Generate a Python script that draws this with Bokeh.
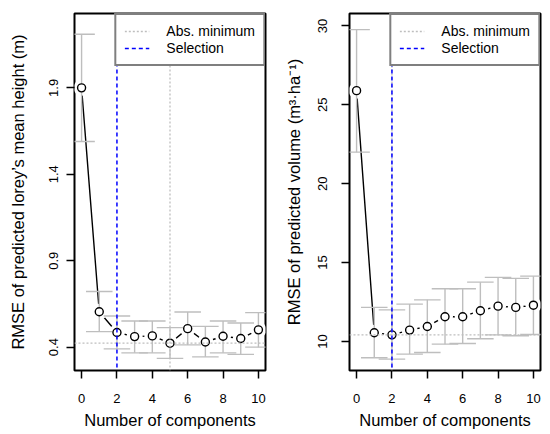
from bokeh.plotting import figure
from bokeh.layouts import row
from bokeh.models import Span, Legend, LegendItem, FixedTicker, Range1d
from bokeh.embed import file_html
from bokeh.resources import INLINE

# ---------------- data ----------------
components = [0, 1, 2, 3, 4, 5, 6, 7, 8, 9, 10]

height_rmse = [1.90, 0.605, 0.485, 0.461, 0.465, 0.423, 0.507, 0.430, 0.463, 0.450, 0.500]
height_upper = [2.21, 0.722, 0.580, 0.551, 0.551, 0.513, 0.603, 0.520, 0.551, 0.540, 0.600]
height_lower = [1.59, 0.490, 0.390, 0.367, 0.367, 0.335, 0.413, 0.344, 0.367, 0.358, 0.400]
height_selection = 2
height_yticks = [0.4, 0.9, 1.4, 1.9]

volume_rmse = [25.9, 10.55, 10.42, 10.72, 10.95, 11.57, 11.57, 11.95, 12.24, 12.16, 12.30]
volume_upper = [29.77, 12.16, 12.00, 12.37, 12.64, 13.34, 13.34, 13.76, 14.06, 14.00, 14.14]
volume_lower = [22.0, 8.97, 8.88, 9.20, 9.30, 9.83, 9.87, 10.17, 10.42, 10.36, 10.44]
volume_selection = 2
volume_yticks = [10, 15, 20, 25, 30]

xticks = [0, 2, 4, 6, 8, 10]

FONT = "Liberation Sans"
GRAY = "#BEBEBE"
CAP = 0.75
DOT = "2 2"
DASH = "4 3"
NAN = float("nan")


def make_panel(rmse, upper, lower, selection, yticks, yrange, ylabel,
               title_standoff, label_standoff):
    p = figure(width=275, height=434, output_backend="svg", toolbar_location=None,
               x_range=Range1d(-0.4, 10.4), y_range=Range1d(*yrange),
               min_border_left=74, min_border_right=10,
               min_border_top=13, min_border_bottom=64)
    p.grid.visible = False
    p.outline_line_color = "black"
    p.outline_line_width = 2
    p.background_fill_color = "white"
    p.border_fill_color = "white"

    # connecting line
    p.line(components, rmse, line_color="black", line_width=1.4)
    # white masks to create gaps around points (type="b")
    p.scatter(components, rmse, size=16, marker="circle", fill_color="white",
              line_color=None)
    # error bars
    p.segment(x0=components, y0=lower, x1=components, y1=upper,
              line_color=GRAY, line_width=1.4)
    xl = [c - CAP for c in components]
    xr = [c + CAP for c in components]
    p.segment(x0=xl, y0=upper, x1=xr, y1=upper, line_color=GRAY, line_width=1.4)
    p.segment(x0=xl, y0=lower, x1=xr, y1=lower, line_color=GRAY, line_width=1.4)
    # points
    p.scatter(components, rmse, size=8, marker="circle", fill_color="white",
              line_color="black", line_width=1.4)

    # absolute minimum and selection
    i_min = rmse.index(min(rmse))
    p.add_layout(Span(location=min(rmse), dimension="width", line_color=GRAY,
                      line_dash=DOT, line_width=1.3))
    p.add_layout(Span(location=components[i_min], dimension="height", line_color=GRAY,
                      line_dash=DOT, line_width=1.3))
    p.add_layout(Span(location=selection, dimension="height", line_color="#0000FF",
                      line_dash=DASH, line_width=1.5))

    r_min = p.line([selection, selection], [NAN, NAN], line_color=GRAY,
                   line_dash=DOT, line_width=1.3)
    r_sel = p.line([selection, selection], [NAN, NAN], line_color="#0000FF",
                   line_dash=DASH, line_width=1.5)
    legend = Legend(items=[LegendItem(label="Abs. minimum", renderers=[r_min]),
                           LegendItem(label="Selection", renderers=[r_sel])],
                    location="top_right", margin=0, padding=8, spacing=1,
                    label_standoff=17, glyph_width=25, glyph_height=16,
                    label_height=16, label_width=20, label_text_font=FONT,
                    label_text_font_size="14px", label_text_color="black",
                    border_line_color="black",
                    border_line_width=2, background_fill_color="white",
                    background_fill_alpha=1.0)
    p.add_layout(legend)

    for ax in (p.xaxis[0], p.yaxis[0]):
        ax.axis_line_color = None
        ax.major_tick_out = 8
        ax.major_tick_in = 0
        ax.minor_tick_line_color = None
        ax.major_tick_line_color = "black"
        ax.major_tick_line_width = 1.5
        ax.major_label_text_font = FONT
        ax.major_label_text_font_size = "13px"
        ax.major_label_text_color = "black"
        ax.axis_label_text_font = FONT
        ax.axis_label_text_font_size = "16.5px"
        ax.axis_label_text_font_style = "normal"
        ax.axis_label_text_color = "black"

    p.xaxis.ticker = FixedTicker(ticks=xticks)
    p.xaxis.axis_label = "Number of components"
    p.xaxis.major_label_standoff = 15
    p.xaxis.axis_label_standoff = 5

    p.yaxis.ticker = FixedTicker(ticks=yticks)
    p.yaxis.major_label_orientation = "vertical"
    p.yaxis.major_label_standoff = label_standoff
    p.yaxis.axis_label = ylabel
    p.yaxis.axis_label_standoff = title_standoff
    return p


p1 = make_panel(height_rmse, height_upper, height_lower, height_selection,
                height_yticks, (0.265, 2.33),
                "RMSE of predicted lorey\u2019s mean height (m)",
                20, 8)
p2 = make_panel(volume_rmse, volume_upper, volume_lower, volume_selection,
                volume_yticks, (8.16, 30.79),
                "RMSE of predicted volume (m\u00b3\u00b7ha\u207b\u00b9)",
                13, 14)

layout = row(p1, p2)
open("out.html", "w").write(file_html(layout, INLINE))
